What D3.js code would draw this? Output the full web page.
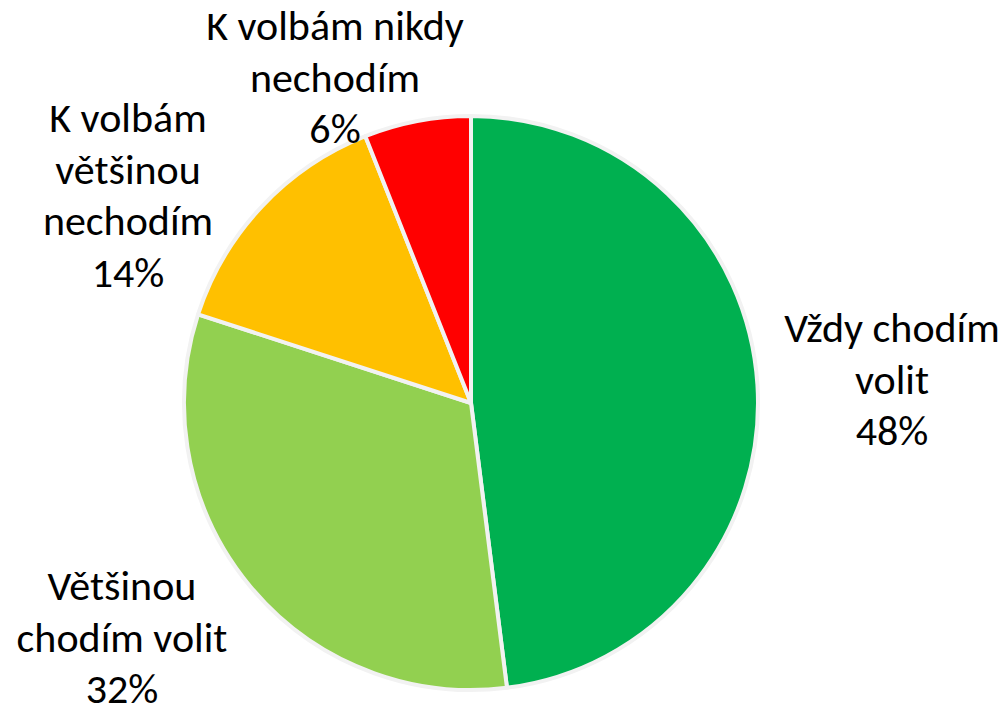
<!DOCTYPE html>
<html>
<head>
  <meta charset="utf-8">
  <script src="https://d3js.org/d3.v7.min.js"></script>
  <style>
    body { margin: 0; background: #fff; }
    .label { font-family: Carlito, "Open Sans", sans-serif; font-size: 42px; fill: #000; }
  </style>
</head>
<body>
  <div id="chart"></div>
  <script>
    // values, clockwise from 12 o'clock
    const categories = ["Vždy chodím volit", "Většinou chodím volit", "K volbám většinou nechodím", "K volbám nikdy nechodím"];
    const values = [48, 32, 14, 6];
    const colors = ["#00B050", "#92D050", "#FFC000", "#FF0000"];
    // how each label breaks into lines, and where its block sits
    const labelLines = [
      ["Vždy chodím", "volit", "48%"],
      ["Většinou", "chodím volit", "32%"],
      ["K volbám", "většinou", "nechodím", "14%"],
      ["K volbám nikdy", "nechodím", "6%"]
    ];
    const labelPos = [[892, 342], [122, 600], [128, 132], [335, 40]];

    const width = 1006, height = 708;
    const cx = 471, cy = 403, radius = 287;
    const lineHeight = 51.5;

    const svg = d3.select("#chart").append("svg")
      .attr("width", width)
      .attr("height", height);

    const g = svg.append("g").attr("transform", "translate(" + cx + "," + cy + ")");

    const pie = d3.pie().sort(null).value(d => d);
    const arc = d3.arc().innerRadius(0).outerRadius(radius);

    g.selectAll("path")
      .data(pie(values))
      .enter()
      .append("path")
      .attr("d", arc)
      .attr("fill", (d, i) => colors[i])
      .attr("stroke", "#f2f2f2")
      .attr("stroke-width", 4)
      .attr("stroke-linejoin", "round");

    // labels
    const labels = svg.selectAll(".label")
      .data(labelLines)
      .enter()
      .append("text")
      .attr("class", "label")
      .attr("text-anchor", "middle")
      .attr("x", (d, i) => labelPos[i][0])
      .attr("y", (d, i) => labelPos[i][1]);

    labels.each(function(lines, i) {
      d3.select(this).selectAll("tspan")
        .data(lines)
        .enter()
        .append("tspan")
        .attr("x", labelPos[i][0])
        .attr("y", (l, j) => labelPos[i][1] + j * lineHeight)
        .text(l => l);
    });
  </script>
</body>
</html>
